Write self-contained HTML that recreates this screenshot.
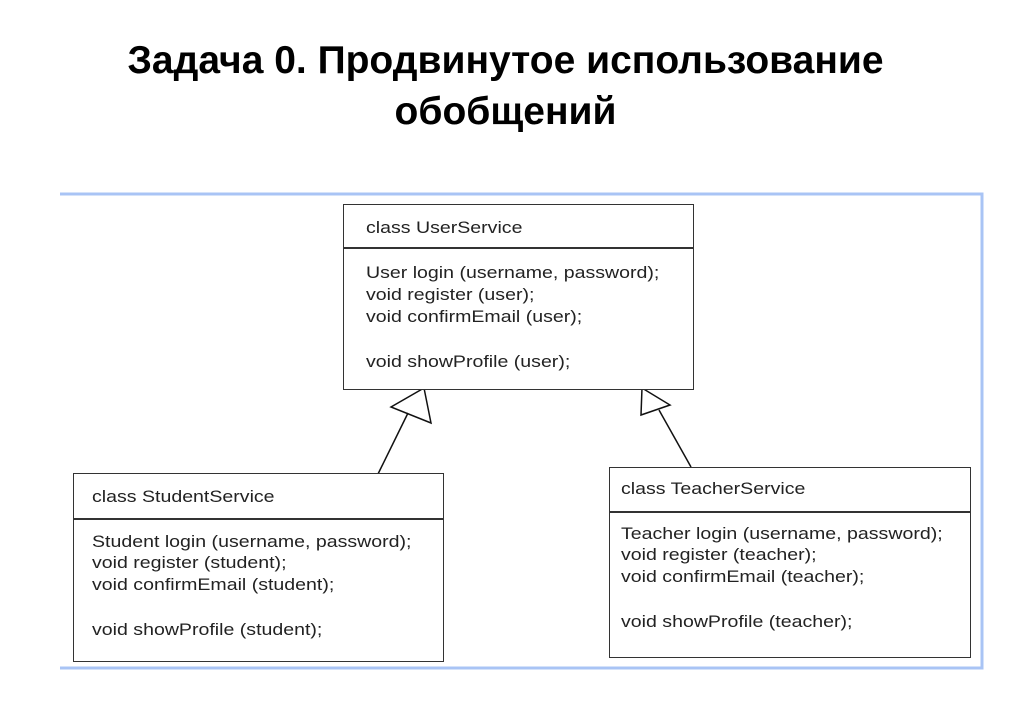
<!DOCTYPE html>
<html><head><meta charset="utf-8"><style>
body{margin:0;width:1011px;height:709px;background:#fff;position:relative;overflow:hidden;font-family:"Liberation Sans",sans-serif}
.t{position:absolute;left:0;width:1011px;text-align:center;font-weight:bold;font-size:39px;color:#000}
.box{position:absolute;border:1.5px solid #333;box-sizing:border-box;background:#fff}
.l{position:absolute;font-size:17px;color:#222;white-space:nowrap;transform:scaleX(1.15);transform-origin:0 0}
</style></head><body>
<div class="t" style="top:39px">Задача 0. Продвинутое использование</div>
<div class="t" style="top:90px">обобщений</div>
<svg width="1011" height="709" style="position:absolute;left:0;top:0">
<path d="M60 194 H982 V668 H60" fill="none" stroke="#a9c4f5" stroke-width="3"/>
<path d="M424 388 L391 407 L431 423 Z" fill="#fff" stroke="#111" stroke-width="1.5"/>
<path d="M408 413 L378 474" stroke="#111" stroke-width="1.5"/>
<path d="M642 388 L641 415 L670 405 Z" fill="#fff" stroke="#111" stroke-width="1.5"/>
<path d="M659 410 L691 467" stroke="#111" stroke-width="1.5"/>
</svg>
<div class="box" style="left:343px;top:204px;width:351px;height:186px"></div>
<div style="position:absolute;left:343px;top:247px;width:351px;border-top:2px solid #333"></div>
<div class="l" style="left:366px;top:218px">class UserService</div>
<div class="l" style="left:366px;top:263px">User login (username, password);</div>
<div class="l" style="left:366px;top:285px">void register (user);</div>
<div class="l" style="left:366px;top:307px">void confirmEmail (user);</div>
<div class="l" style="left:366px;top:352px">void showProfile (user);</div>

<div class="box" style="left:73px;top:473px;width:371px;height:189px"></div>
<div style="position:absolute;left:73px;top:518px;width:371px;border-top:2px solid #333"></div>
<div class="l" style="left:92px;top:487px">class StudentService</div>
<div class="l" style="left:92px;top:532px">Student login (username, password);</div>
<div class="l" style="left:92px;top:553px">void register (student);</div>
<div class="l" style="left:92px;top:575px">void confirmEmail (student);</div>
<div class="l" style="left:92px;top:620px">void showProfile (student);</div>

<div class="box" style="left:609px;top:467px;width:362px;height:191px"></div>
<div style="position:absolute;left:609px;top:511px;width:362px;border-top:2px solid #333"></div>
<div class="l" style="left:621px;top:479px">class TeacherService</div>
<div class="l" style="left:621px;top:524px">Teacher login (username, password);</div>
<div class="l" style="left:621px;top:545px">void register (teacher);</div>
<div class="l" style="left:621px;top:567px">void confirmEmail (teacher);</div>
<div class="l" style="left:621px;top:612px">void showProfile (teacher);</div>
</body></html>
